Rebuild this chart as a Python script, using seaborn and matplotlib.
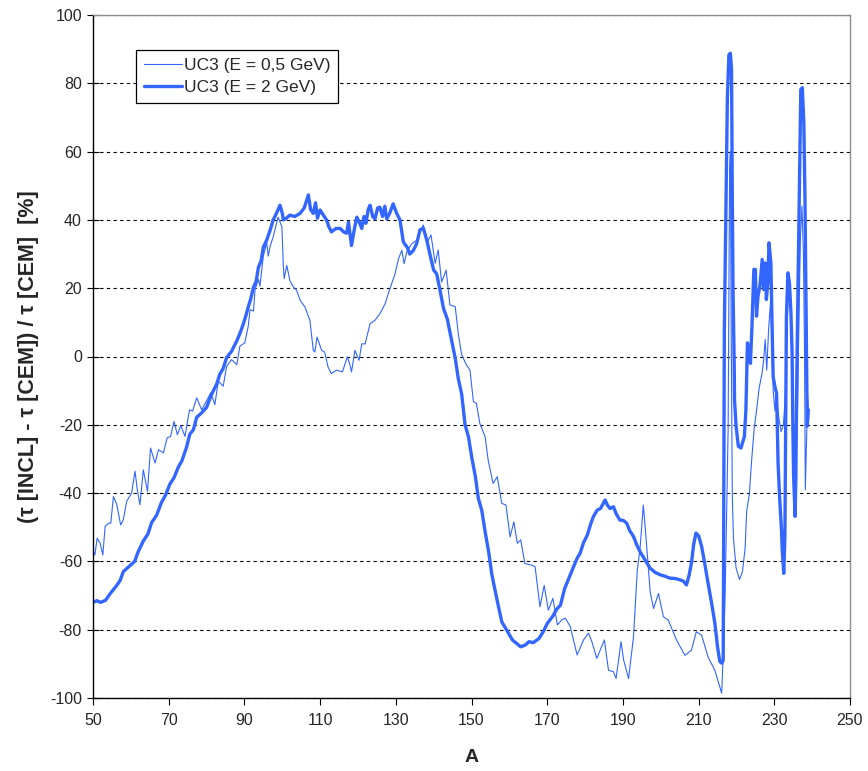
import numpy as np
import pandas as pd
import matplotlib
matplotlib.use('Agg')
import matplotlib.pyplot as plt
import seaborn as sns

# UC3, E = 2 GeV (thick line)
a_2gev = [50.0, 51.0, 52.0, 53.3, 54.5, 56.3, 57.2, 58.0, 59.5, 61.0, 62.0, 63.3, 64.5, 65.5, 66.8,
          68.1, 69.2, 70.3, 71.4, 72.5, 73.5, 74.7, 75.6, 76.5, 77.4, 78.7, 80.0, 81.0, 81.8, 82.7,
          83.5, 84.4, 85.3, 86.6, 88.0, 88.9, 89.7, 90.4, 91.0, 91.7, 92.4, 93.1, 93.7, 94.4, 95.0,
          95.9, 96.8, 97.6, 98.5, 99.4, 100.0, 100.3, 101.1, 102.0, 103.3, 104.7, 105.8, 106.9, 107.5,
          108.2, 108.8, 109.3, 110.0, 110.8, 111.7, 112.3, 113.0, 114.2, 115.3, 116.2, 117.0, 117.5,
          118.3, 119.0, 119.7, 120.3, 121.0, 121.6, 122.1, 122.7, 123.2, 123.9, 124.5, 125.2, 125.8,
          126.5, 127.1, 127.6, 128.4, 129.3, 130.2, 131.1, 132.0, 133.0, 133.7, 134.6, 135.5, 136.4,
          137.3, 138.2, 139.0, 140.0, 140.8, 141.7, 142.6, 143.6, 144.8, 145.7, 146.5, 147.4, 148.3,
          149.2, 150.1, 151.0, 151.8, 152.7, 153.6, 154.5, 155.4, 156.7, 158.0, 159.5, 160.8, 162.0,
          163.0, 164.2, 165.2, 166.3, 167.8, 169.0, 170.0, 171.5, 172.5, 173.5, 174.6, 175.7, 176.8,
          177.9, 178.7, 179.6, 180.6, 181.5, 182.2, 183.2, 184.1, 185.3, 185.9, 186.6, 187.5, 188.2,
          189.2, 190.1, 191.0, 191.8, 192.8, 193.6, 194.5, 195.8, 197.2, 198.5, 199.8, 201.0, 202.4,
          203.8, 205.1, 206.0, 206.8, 207.5, 208.1, 208.7, 209.3, 210.0, 210.8, 211.6, 212.5, 213.4,
          214.3, 215.0, 215.6, 216.1, 216.5, 216.6, 216.8, 217.2, 217.6, 218.0, 218.4, 218.7, 218.9,
          219.1, 219.4, 219.5, 219.9, 220.5, 221.2, 222.1, 222.5, 222.9, 223.4, 223.7, 224.1, 224.6,
          225.0, 225.3, 225.7, 226.2, 226.8, 227.2, 227.6, 227.9, 228.3, 228.6, 229.1, 229.4, 229.7,
          230.2, 230.6, 231.0, 231.4, 231.9, 232.1, 232.5, 232.8, 233.0, 233.2, 233.6, 234.0, 234.4,
          234.7, 234.9, 235.1, 235.5, 235.7, 235.9, 236.1, 236.4, 236.7, 237.0, 237.4, 237.8, 238.1,
          238.4, 238.7, 239.0]
tau_2gev = [-72, -71.5, -72, -71.4, -69.5, -67, -65.5, -63, -61.5, -60, -57, -54, -52, -48.6, -46.5,
            -42.7, -40.5, -37.4, -35.5, -32.5, -30.5, -26.6, -22.7, -21.5, -17.8, -16.5, -14.9, -12, -10, -8,
            -5.2, -3.5, -0.3, 1.5, 4.6, 7, 9.5, 12, 14.4, 17, 20.3, 22, 26.1, 28, 32,
            34.1, 37, 40, 42, 44.3, 42, 40, 40.5, 41.4, 41, 41.9, 43.5, 47.3, 43,
            41.9, 45, 40.5, 42.9, 41.5, 40, 38, 36.5, 37.5, 37.5, 36.5, 36.1, 39.3,
            32.5, 37, 40.8, 39.5, 37.5, 41, 39, 43, 44.3, 41, 40.3, 43.5, 43.7,
            41, 44, 40.3, 42, 44.7, 42, 40, 33.5, 32, 30, 31, 33, 37.1,
            37.5, 34, 30, 25.3, 24.2, 19.3, 14.1, 11, 4.4, -0.5, -6.4, -11, -20,
            -23.5, -29.8, -35, -41.5, -45, -51.3, -57, -64, -71, -77.7, -80.5, -83, -84.1,
            -85, -84.5, -83.5, -83.8, -82.6, -80.5, -78.2, -76, -74, -72.8, -68, -65, -62,
            -59.1, -57.6, -54.5, -52.3, -49, -46.9, -45, -44.5, -42, -43.5, -44.5, -44, -46,
            -47.9, -48, -48.8, -51, -52.7, -55, -57.1, -59.5, -62, -63.2, -63.9, -64.3, -64.9,
            -65, -65.4, -65.8, -66.9, -64, -60.5, -55, -51.7, -52.5, -55.6, -60.5, -66.4, -72,
            -78.1, -85, -89.3, -89.8, -89, -60, 7.8, 41.9, 75.6, 88.3, 88.8, 84.1, 48,
            19.2, -1.8, -12.8, -20.4, -26.3, -26.8, -23.4, -15.6, 4, 1.6, -2, 8.9, 25.5,
            25.5, 11.8, 17.7, 20.6, 28.4, 19.6, 27.4, 16.7, 21.6, 33.3, 27.4, 9.8, -6,
            -9, -10.8, -31.3, -41.1, -50.8, -56.7, -63.5, -52.8, -21.5, 11.8, 24.5, 21.6, 12.7,
            1, -20.4, -35.1, -46.8, -35.1, -10.8, 7.8, 30.3, 54.8, 78.2, 78.7, 68.5, 47,
            13.8, -20.4, -15.6]

# UC3, E = 0.5 GeV (thin line)
a_05gev = [50.0, 50.5, 51.1, 51.9, 52.6, 53.2, 54.1, 54.7, 55.4, 56.3, 57.3, 58.0, 58.9, 60.2, 61.1,
           61.7, 62.4, 63.3, 64.4, 65.2, 66.4, 67.3, 68.6, 69.6, 70.5, 71.4, 72.3, 73.2, 74.3, 75.5,
           76.3, 77.4, 78.7, 80.0, 81.1, 82.2, 83.1, 84.4, 85.3, 86.6, 88.0, 88.8, 90.1, 91.0, 91.5,
           92.4, 92.8, 93.7, 94.1, 94.6, 95.0, 95.9, 96.3, 96.8, 97.6, 98.9, 99.9, 100.3, 100.5, 101.2,
           102.0, 102.9, 103.8, 104.7, 106.0, 107.3, 108.2, 108.6, 109.2, 110.4, 111.2, 112.1, 113.0,
           114.3, 115.9, 117.2, 117.9, 118.3, 119.2, 120.3, 121.0, 121.9, 123.2, 124.5, 125.8, 127.2,
           128.0, 128.9, 129.8, 130.7, 131.6, 132.2, 132.9, 134.2, 135.5, 136.4, 137.3, 138.2, 139.3,
           140.4, 141.2, 142.1, 143.3, 144.3, 145.7, 146.5, 147.4, 148.7, 149.6, 150.5, 151.3, 152.2,
           153.6, 154.4, 155.7, 156.8, 158.0, 159.1, 160.2, 161.2, 162.1, 163.0, 164.1, 165.9, 166.8,
           168.1, 169.2, 170.3, 171.5, 172.7, 173.9, 174.8, 176.1, 177.9, 179.6, 180.9, 181.8, 183.1,
           185.1, 186.2, 187.5, 188.2, 189.5, 190.2, 191.5, 192.8, 193.8, 194.5, 195.4, 196.3, 197.2,
           198.1, 199.4, 200.7, 202.0, 204.2, 206.4, 208.1, 209.4, 210.8, 212.5, 214.3, 215.6, 216.1,
           216.6, 217.0, 217.5, 217.8, 218.0, 218.2, 218.4, 218.6, 218.9, 219.2, 219.9, 220.8, 221.6,
           222.3, 222.7, 223.4, 224.0, 224.7, 225.4, 226.0, 226.7, 227.1, 227.6, 228.0, 228.5, 229.0,
           229.3, 229.7, 230.2, 230.6, 231.2, 231.8, 232.4, 232.9, 233.3, 233.7, 234.1, 234.5, 234.9,
           235.3, 235.7, 236.1, 236.5, 236.9, 237.3, 237.7, 238.0, 238.2, 238.5, 238.8, 239.1]
tau_05gev = [-57, -58.1, -53.2, -54.7, -58.1, -49.8, -48.8, -48.8, -41, -43.4, -49.3, -47.8, -42.4, -40, -33.6,
             -39, -43.4, -33.2, -39.5, -26.8, -31.2, -27.3, -28.2, -23.8, -23.4, -19, -22.9, -20.2, -23.4, -15.6,
             -16, -12.1, -15.6, -13, -10.6, -14.1, -7.2, -8.7, -2.9, -0.9, -2.4, 3, 4, 8.8, 13.7,
             13.3, 19.6, 22.6, 20.6, 25.5, 29.4, 33.3, 29.4, 32.3, 35, 40.8, 38, 26.3, 22.8, 26.7,
             22.3, 20.4, 19.4, 16.5, 14.5, 10.6, 1.8, 1.3, 5.7, 1.8, 1.3, -3.1, -5,
             -4, -4.5, -0.1, -2.5, -4.5, 1.8, -1.1, 3.7, 3.7, 9.6, 10.6, 12.5, 15.5,
             18.4, 21.3, 24.2, 28.6, 31.1, 27.2, 30.6, 33, 34, 36.5, 38.5, 33.2, 35.6,
             27.3, 31.2, 21.8, 25.3, 15.1, 14.6, 6.8, 0.5, -2.5, -4, -13.2, -13.7, -19.6,
             -23.5, -30.3, -37.2, -35.2, -43, -43.5, -52.8, -48.4, -54.7, -53.7, -60.6, -61.1, -61.6,
             -73.3, -67, -74.3, -70.8, -78.6, -77.1, -76.6, -79.1, -87.4, -83, -81, -83.5, -88.4,
             -83, -91.9, -92.3, -94.3, -83.5, -88.9, -94.3, -82.1, -62.5, -56.6, -43.5, -55.7, -68.9,
             -73.8, -69.4, -76.2, -77.2, -83.1, -87.5, -86, -80.6, -81.6, -88, -91.9, -96.8, -98.6,
             -85, -69.7, -40.4, -20.9, 20, 55, 60, 10, -40.4, -53.1, -61.9, -65.3, -62.9,
             -56, -45.3, -40.4, -30.6, -20.9, -15, -9.2, -5.3, -2, 5, -4, 8, 16,
             8, -10, -16, -12, -18, -22, -20, -12, 5, 20, 18, 8, -15,
             -25, -30, -18, 10, 35, 44, 30, 0, -39, -25, -12, -18]

label_05 = 'UC3 (E = 0,5 GeV)'
label_2 = 'UC3 (E = 2 GeV)'
line_color = '#3366FF'

df_05 = pd.DataFrame({'A': a_05gev, 'tau': tau_05gev})
df_2 = pd.DataFrame({'A': a_2gev, 'tau': tau_2gev})

sns.set_style('white')
plt.rcParams['font.family'] = ['Liberation Sans', 'DejaVu Sans']
plt.rcParams['axes.unicode_minus'] = False

fig = plt.figure(figsize=(8.68, 7.71), dpi=100)
ax = fig.add_axes([93 / 868, 1 - 698 / 771, 757 / 868, 683 / 771])

sns.lineplot(data=df_05, x='A', y='tau', ax=ax, sort=False, estimator=None,
             color=line_color, linewidth=0.8, label=label_05)
sns.lineplot(data=df_2, x='A', y='tau', ax=ax, sort=False, estimator=None,
             color=line_color, linewidth=2.4, label=label_2)

ax.set_xlim(50, 250)
ax.set_ylim(-100, 100)
ax.set_xticks(np.arange(50, 251, 20))
ax.set_yticks(np.arange(-100, 101, 20))
ax.yaxis.grid(True, color='black', linestyle=(0, (3, 3)), linewidth=0.8)
ax.xaxis.grid(False)
ax.set_axisbelow(True)

for side in ['left', 'bottom']:
    ax.spines[side].set_color('black')
    ax.spines[side].set_linewidth(1.0)
for side in ['top', 'right']:
    ax.spines[side].set_color('#8c8c8c')
    ax.spines[side].set_linewidth(1.0)

ax.tick_params(axis='x', direction='out', length=5, width=0.8, color='black',
               labelsize=11.5, pad=6)
ax.tick_params(axis='y', direction='inout', length=8, width=0.8, color='black',
               labelsize=11.5, pad=4)
ax.tick_params(bottom=True, left=True)

ax.set_xlabel('A', fontsize=14, fontweight='bold', labelpad=15)
ax.set_ylabel('(τ [INCL] - τ [CEM]) / τ [CEM]  [%]', fontsize=15.5, fontweight='bold', labelpad=8)

leg = ax.legend(loc='upper left', bbox_to_anchor=((136 - 93) / 757, (698 - 50) / 683),
                borderaxespad=0, frameon=True, fancybox=False, framealpha=1,
                edgecolor='black', fontsize=12.5, handlelength=2.2, handletextpad=0.1,
                borderpad=0.45, labelspacing=0.4)
leg.get_frame().set_linewidth(0.9)

plt.savefig('out.png', dpi=100)
plt.close()
